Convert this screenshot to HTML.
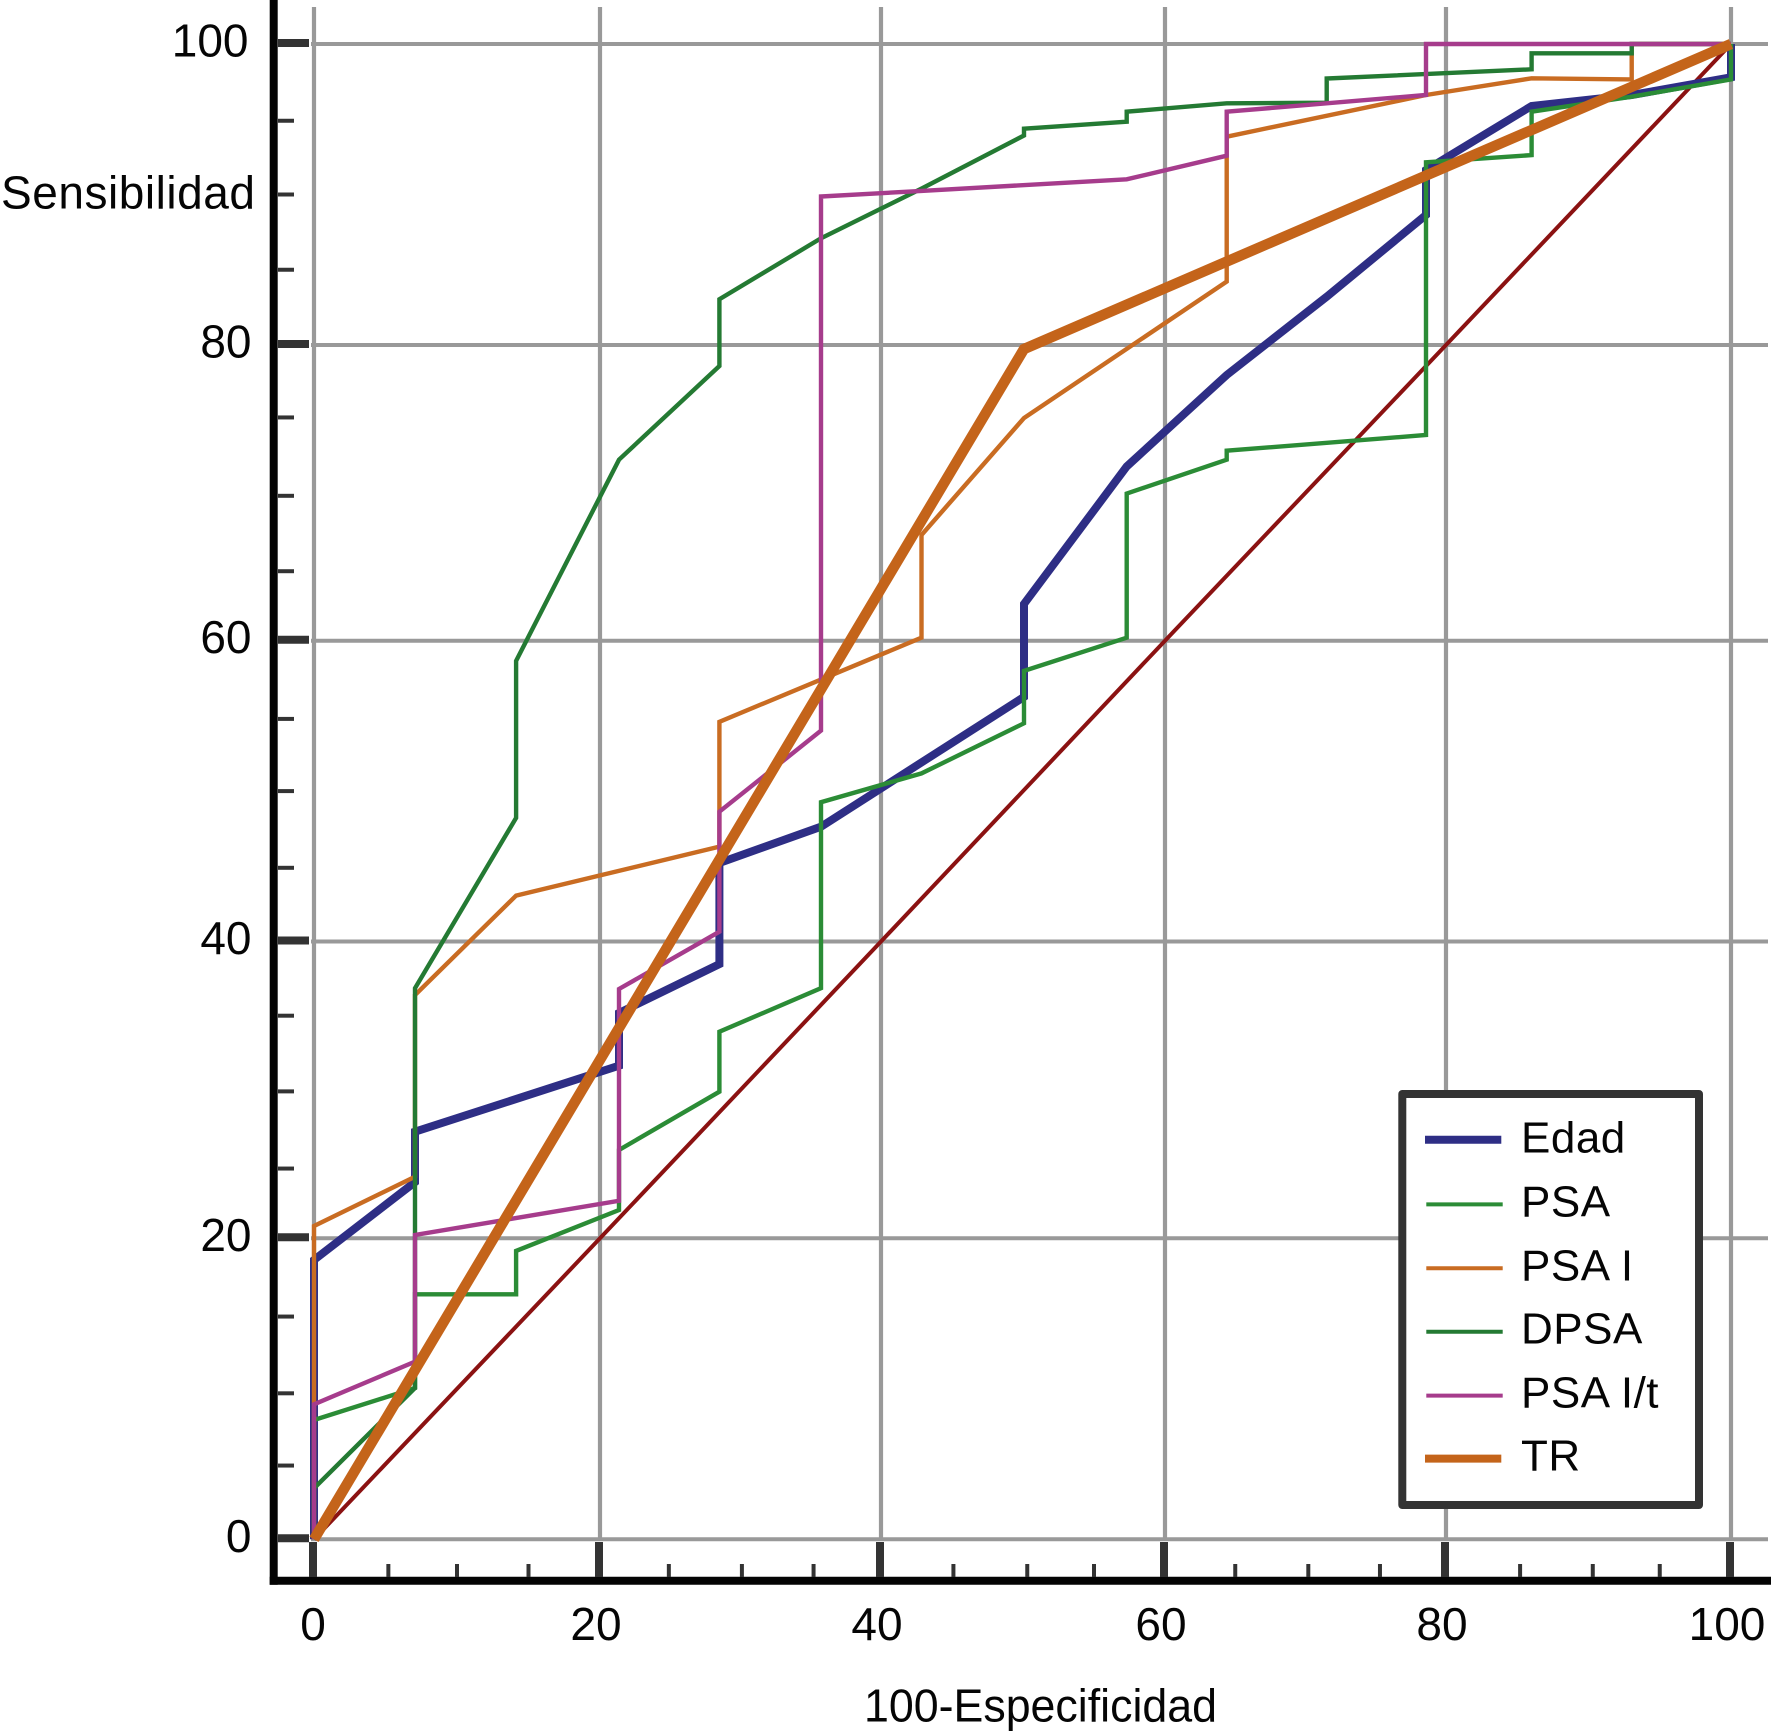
<!DOCTYPE html>
<html lang="es">
<head>
<meta charset="utf-8">
<title>Curvas ROC</title>
<style>
  html, body { margin: 0; padding: 0; background: #fff; }
  #chart { display: block; width: 1771px; height: 1732px; }
  text { font-family: "Liberation Sans", Arial, sans-serif; font-size: 46px; fill: #050505; }
  #legend text { font-size: 44px; letter-spacing: 0.5px; }
</style>
</head>
<body>
<svg id="chart" xmlns="http://www.w3.org/2000/svg" width="1771" height="1732" viewBox="0 0 1771 1732">
  <rect x="0" y="0" width="1771" height="1732" fill="#ffffff"/>
  <g id="grid"></g>
  <g id="series"></g>
  <g id="axes">
    <line x1="273.7" y1="0" x2="273.7" y2="1584.7" stroke="#040404" stroke-width="8"/>
    <line x1="269.7" y1="1580.7" x2="1771" y2="1580.7" stroke="#040404" stroke-width="8"/>
  </g>
  <text x="1" y="208.6" textLength="254" lengthAdjust="spacing">Sensibilidad</text>
  <text x="864" y="1721.7" textLength="353" lengthAdjust="spacingAndGlyphs">100-Especificidad</text>
  <g id="legend">
    <rect x="1402.3" y="1094" width="296.7" height="411" fill="#ffffff" stroke="#333333" stroke-width="8" stroke-linejoin="round"/>
    <line x1="1425" y1="1139.7" x2="1501.3" y2="1139.7" stroke="#2e2e85" stroke-width="8"/>
    <text x="1521" y="1152.6">Edad</text>
    <line x1="1426.3" y1="1204.4" x2="1502.7" y2="1204.4" stroke="#2b8c36" stroke-width="4"/>
    <text x="1521" y="1216.6">PSA</text>
    <line x1="1426.3" y1="1268.3" x2="1502.7" y2="1268.3" stroke="#c96c22" stroke-width="4"/>
    <text x="1521" y="1280.5">PSA I</text>
    <line x1="1426.3" y1="1331.7" x2="1502.7" y2="1331.7" stroke="#247a33" stroke-width="4"/>
    <text x="1521" y="1343.4">DPSA</text>
    <line x1="1426.3" y1="1395.6" x2="1502.7" y2="1395.6" stroke="#a63c8c" stroke-width="4"/>
    <text x="1521" y="1407.4">PSA I/t</text>
    <line x1="1425" y1="1458.6" x2="1501.3" y2="1458.6" stroke="#c4641a" stroke-width="8"/>
    <text x="1521" y="1470.6">TR</text>
  </g>
</svg>
<script>
// ---- chart data ----
const xMajorTicks = [0, 20, 40, 60, 80, 100];
const yMajorTicks = [0, 20, 40, 60, 80, 100];
const xTickLabels = ["0", "20", "40", "60", "80", "100"];
const yTickLabels = ["0", "20", "40", "60", "80", "100"];
const xMinorTicks = [5.2, 10, 15, 24.9, 30.1, 35.2, 45.1, 50.3, 55, 65, 70.2, 75.3, 85.2, 90.3, 95];
const yMinorTicks = [4.9, 9.7, 14.8, 24.7, 29.9, 35, 44.9, 50, 54.8, 64.7, 69.8, 75.1, 85, 90, 94.9];

const referenceX = [0, 20, 40, 60, 80, 100];
const referenceY = [0, 20, 40, 60, 80, 100];

const edadX = [0, 0, 7.06, 7.06, 21.35, 21.35, 28.5, 28.5, 35.73, 50.07, 50.07, 57.3, 64.39, 71.51, 78.58, 78.58, 86.01, 93.03, 100, 100];
const edadY = [0, 18.56, 23.79, 27.18, 31.63, 35.18, 38.48, 45.22, 47.63, 56.26, 62.48, 71.78, 77.97, 83.21, 88.64, 91.63, 95.88, 96.61, 97.79, 100];

const psaX = [0, 0, 7.06, 7.06, 14.13, 14.13, 21.35, 21.35, 28.5, 28.5, 35.73, 35.73, 42.85, 50.07, 50.07, 57.3, 57.3, 64.39, 64.39, 78.58, 78.58, 86.01, 86.01, 93.03, 100, 100];
const psaY = [0, 7.93, 10.05, 16.28, 16.28, 19.16, 21.91, 25.95, 29.88, 33.92, 36.85, 49.26, 51.18, 54.51, 57.99, 60.2, 69.95, 72.24, 72.85, 73.91, 92.14, 92.62, 95.5, 96.5, 97.65, 100];

const psaIX = [0, 0, 7.06, 7.06, 14.13, 28.5, 28.5, 42.85, 42.85, 50.07, 64.39, 64.39, 78.58, 86.01, 93.03, 93.03, 100];
const psaIY = [0, 20.83, 24.15, 36.39, 43.05, 46.3, 54.61, 60.2, 67.15, 75.06, 84.21, 93.84, 96.61, 97.72, 97.65, 100, 100];

const dpsaX = [0, 0, 7.06, 7.06, 14.13, 14.13, 21.35, 28.5, 28.5, 35.73, 42.85, 50.07, 50.07, 57.3, 57.3, 64.39, 71.51, 71.51, 86.01, 86.01, 93.03, 93.03, 100];
const dpsaY = [0, 3.39, 10.05, 36.85, 48.22, 58.66, 72.24, 78.58, 83.04, 87.09, 90.39, 93.92, 94.37, 94.84, 95.5, 96.06, 96.1, 97.71, 98.32, 99.38, 99.38, 100, 100];

const psaItX = [0, 0, 7.06, 7.06, 21.35, 21.35, 28.5, 28.5, 35.73, 35.73, 42.85, 57.3, 64.39, 64.39, 78.58, 78.58, 100];
const psaItY = [0, 8.97, 11.8, 20.22, 22.53, 36.8, 40.65, 48.63, 54.02, 89.87, 90.24, 91.01, 92.58, 95.5, 96.61, 100, 100];

const trX = [0, 50.07, 100];
const trY = [0, 79.73, 100];

// ---- axis functions ----
function axisScale(domain, range) {
  return function (v) {
    let i = 0;
    while (i < domain.length - 2 && v > domain[i + 1]) i++;
    const t = (v - domain[i]) / (domain[i + 1] - domain[i]);
    return range[i] + t * (range[i + 1] - range[i]);
  };
}
const xAxis = axisScale([0, 20, 40, 60, 80, 100], [314, 600, 881, 1165, 1446, 1731]);
const yAxis = axisScale([0, 20, 40, 60, 80, 100], [1539.3, 1238.3, 941.5, 640.7, 345, 44]);

const SVGNS = "http://www.w3.org/2000/svg";
const gridLayer = document.getElementById("grid");
const seriesLayer = document.getElementById("series");
const axesLayer = document.getElementById("axes");

function makeLine(parent, x1, y1, x2, y2, color, width) {
  const el = document.createElementNS(SVGNS, "line");
  el.setAttribute("x1", x1);
  el.setAttribute("y1", y1);
  el.setAttribute("x2", x2);
  el.setAttribute("y2", y2);
  el.setAttribute("stroke", color);
  el.setAttribute("stroke-width", width);
  parent.appendChild(el);
  return el;
}

function makeText(parent, x, y, anchor, content) {
  const el = document.createElementNS(SVGNS, "text");
  el.setAttribute("x", x);
  el.setAttribute("y", y);
  el.setAttribute("text-anchor", anchor);
  el.textContent = content;
  parent.appendChild(el);
  return el;
}

function makeSeries(xs, ys, color, width) {
  const el = document.createElementNS(SVGNS, "polyline");
  el.setAttribute("points", xs.map((v, i) => xAxis(v).toFixed(1) + "," + yAxis(ys[i]).toFixed(1)).join(" "));
  el.setAttribute("fill", "none");
  el.setAttribute("stroke", color);
  el.setAttribute("stroke-width", width);
  el.setAttribute("stroke-linejoin", "miter");
  seriesLayer.appendChild(el);
  return el;
}

// grid lines
xMajorTicks.forEach(function (v) {
  const el = makeLine(gridLayer, xAxis(v), 7, xAxis(v), 1541, "#999999", 4.2);
  
  
});
yMajorTicks.forEach(function (v) {
  const el = makeLine(gridLayer, 311, yAxis(v), 1768, yAxis(v), "#999999", 4);
  
  
});

// ticks and tick labels
xMajorTicks.forEach(function (v, i) {
  const tick = makeLine(axesLayer, xAxis(v) - 1, 1542, xAxis(v) - 1, 1577, "#333333", 8);
  
  
  const label = makeText(axesLayer, xAxis(v) - (v === 0 ? 1 : 4), 1640, "middle", xTickLabels[i]);
  
  
});
xMinorTicks.forEach(function (v) {
  const tick = makeLine(axesLayer, xAxis(v), 1564, xAxis(v), 1577, "#333333", 4);
  
  
});
yMajorTicks.forEach(function (v, i) {
  const tick = makeLine(axesLayer, 278, yAxis(v) - 1, 309, yAxis(v) - 1, "#333333", 8);
  
  
  const label = makeText(axesLayer, v === 100 ? 248.5 : 251.5, yAxis(v) + 12.5, "end", yTickLabels[i]);
  
  
});
yMinorTicks.forEach(function (v) {
  const tick = makeLine(axesLayer, 278, yAxis(v), 294, yAxis(v), "#333333", 4);
  
  
});

// series
const reference = makeSeries(referenceX, referenceY, "#8b1212", 4);



const edad = makeSeries(edadX, edadY, "#2e2e85", 8);



const psa = makeSeries(psaX, psaY, "#2b8c36", 4.4);



const psaI = makeSeries(psaIX, psaIY, "#c96c22", 4.4);



const dpsa = makeSeries(dpsaX, dpsaY, "#247a33", 4.4);



const psaIt = makeSeries(psaItX, psaItY, "#a63c8c", 4.4);



const tr = makeSeries(trX, trY, "#c4641a", 10.5);


</script>
</body>
</html>
